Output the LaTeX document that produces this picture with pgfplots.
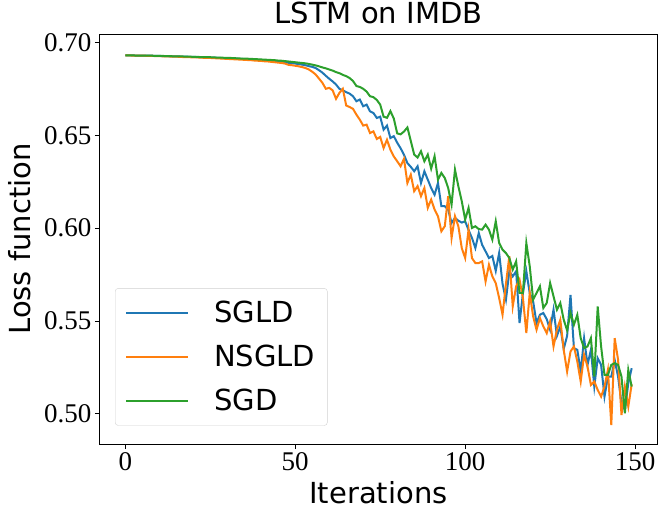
\documentclass[border=0pt]{standalone}
\usepackage{fontspec}
\setmainfont{Liberation Serif}
\newfontfamily\dejavu{DejaVu Sans}
\usepackage{pgfplots}
\usepackage{pgfplotstable}
\pgfplotsset{compat=1.18}
\definecolor{c0}{HTML}{1F77B4}
\definecolor{c1}{HTML}{FF7F0E}
\definecolor{c2}{HTML}{2CA02C}
\pgfplotstableread{
i b o g
0 .6930 .6930 .6930
1 .6930 .6930 .6930
2 .6930 .6929 .6930
3 .6929 .6929 .6929
4 .6929 .6929 .6929
5 .6929 .6928 .6929
6 .6928 .6928 .6928
7 .6928 .6927 .6928
8 .6928 .6927 .6928
9 .6927 .6926 .6927
10 .6927 .6926 .6927
11 .6926 .6925 .6927
12 .6926 .6925 .6926
13 .6925 .6924 .6926
14 .6925 .6923 .6925
15 .6924 .6923 .6925
16 .6924 .6922 .6924
17 .6923 .6921 .6924
18 .6923 .6921 .6923
19 .6922 .6920 .6923
20 .6922 .6919 .6922
21 .6921 .6919 .6922
22 .6920 .6918 .6921
23 .6920 .6917 .6921
24 .6919 .6916 .6920
25 .6918 .6916 .6920
26 .6918 .6915 .6919
27 .6917 .6914 .6918
28 .6916 .6913 .6918
29 .6915 .6912 .6917
30 .6915 .6911 .6916
31 .6914 .6910 .6916
32 .6913 .6909 .6915
33 .6912 .6908 .6914
34 .6911 .6907 .6913
35 .6910 .6906 .6912
36 .6909 .6905 .6912
37 .6908 .6904 .6911
38 .6907 .6902 .6910
39 .6906 .6901 .6909
40 .6905 .6900 .6908
41 .6903 .6898 .6907
42 .6902 .6897 .6906
43 .6900 .6895 .6905
44 .6899 .6893 .6904
45 .6897 .6891 .6902
46 .6895 .6889 .6901
47 .6893 .6886 .6899
48 .6890 .6879 .6897
49 .6888 .6877 .6895
50 .6886 .6874 .6893
51 .6883 .6871 .6891
52 .6880 .6867 .6889
53 .6877 .6862 .6887
54 .6872 .6854 .6884
55 .6868 .6842 .6880
56 .6862 .6827 .6876
57 .6850 .6805 .6871
58 .6837 .6782 .6865
59 .6820 .6750 .6860
60 .6804 .6755 .6854
61 .6790 .6742 .6848
62 .6773 .6696 .6840
63 .6750 .6728 .6834
64 .6742 .6750 .6825
65 .6732 .6660 .6818
66 .6724 .6652 .6808
67 .6710 .6642 .6792
68 .6683 .6611 .6765
69 .6692 .6584 .6760
70 .6656 .6552 .6750
71 .6665 .6557 .6735
72 .6629 .6512 .6710
73 .6620 .6521 .6705
74 .6593 .6480 .6690
75 .6600 .6491 .6665
76 .6530 .6431 .6600
77 .6552 .6476 .6594
78 .6485 .6422 .6630
79 .6495 .6386 .6590
80 .6460 .6360 .6510
81 .6430 .6333 .6505
82 .6395 .6373 .6520
83 .6350 .6243 .6542
84 .6330 .6288 .6470
85 .6306 .6199 .6396
86 .6333 .6226 .6380
87 .6243 .6172 .6414
88 .6306 .6216 .6360
89 .6261 .6109 .6396
90 .6216 .6154 .6320
91 .6180 .6100 .6387
92 .6243 .6064 .6261
93 .6118 .5983 .6297
94 .6118 .6010 .6270
95 .6100 .6172 .6216
96 .6028 .5947 .6127
97 .6055 .6064 .6315
98 .6040 .6010 .6225
99 .6030 .5893 .6145
100 .6037 .5839 .6046
101 .5990 .5992 .6109
102 .5947 .5839 .6001
103 .5893 .5812 .6010
104 .5974 .5812 .5995
105 .5910 .5821 .5992
106 .5875 .5713 .6019
107 .5839 .5803 .5992
108 .5850 .5740 .5938
109 .5770 .5704 .6037
110 .5866 .5624 .5920
111 .5700 .5534 .5884
112 .5615 .5700 .5866
113 .5768 .5849 .5839
114 .5740 .5579 .5777
115 .5768 .5687 .5821
116 .5489 .5723 .5651
117 .5650 .5624 .5651
118 .5768 .5435 .5920
119 .5650 .5651 .5795
120 .5606 .5525 .5615
121 .5489 .5453 .5651
122 .5534 .5516 .5687
123 .5543 .5471 .5570
124 .5510 .5435 .5597
125 .5453 .5498 .5705
126 .5561 .5363 .5633
127 .5420 .5453 .5561
128 .5470 .5507 .5597
129 .5350 .5345 .5507
130 .5420 .5228 .5450
131 .5641 .5336 .5543
132 .5354 .5363 .5480
133 .5345 .5282 .5533
134 .5228 .5174 .5408
135 .5407 .5318 .5354
136 .5264 .5255 .5363
137 .5345 .5156 .5408
138 .5147 .5174 .5201
139 .5300 .5129 .5578
140 .5264 .5093 .5363
141 .5093 .5147 .5210
142 .5201 .5237 .5210
143 .5201 .4940 .5264
144 .5290 .5408 .5273
145 .5200 .5291 .5264
146 .5057 .4994 .5201
147 .5021 .5147 .5003
148 .5165 .5039 .5237
149 .5246 .5160 .5147
}\loss
\begin{document}
\begin{tikzpicture}
\begin{axis}[
  scale only axis,
  width=557pt, height=410pt,
  xmin=-7.45, xmax=156.45,
  ymin=0.4838, ymax=0.7045,
  xtick={0,50,100,150},
  ytick={0.50,0.55,0.60,0.65,0.70},
  yticklabel style={/pgf/number format/.cd,fixed,fixed zerofill,precision=2},
  /pgf/number format/assume math mode=true,
  tick label style={font=\fontsize{27}{27}\selectfont},
  tick align=outside,
  tick pos=left,
  major tick length=5pt,
  tick style={black, line width=1pt},
  axis line style={line width=1pt},
  title={LSTM on IMDB},
  title style={font=\dejavu\fontsize{29}{29}\selectfont, at={(axis description cs:0.5,1.0098)}, anchor=base, inner sep=0pt},
  xlabel={Iterations},
  xlabel style={font=\dejavu\fontsize{29}{29}\selectfont, at={(axis description cs:0.5,-0.1463)}, anchor=base, inner sep=0pt},
  ylabel={Loss function},
  ylabel style={font=\dejavu\fontsize{29}{29}\selectfont, at={(axis description cs:-0.124,0.5)}, anchor=base, inner sep=0pt},
  legend style={at={(axis description cs:0.027,0.38)}, anchor=north west,
    draw=black!18, rounded corners=3pt, fill=white, fill opacity=0.8, text opacity=1,
    font=\dejavu\fontsize{29}{29}\selectfont,
    inner xsep=10pt, inner ysep=11pt, row sep=17pt},
  legend cell align=left,
  legend image code/.code={\draw[#1, line width=2pt] (0pt,0pt) -- (62pt,0pt); \path (85pt,0pt);},
]
\addplot[c0, line width=2pt] table[x=i, y=b] {\loss};
\addlegendentry{SGLD}
\addplot[c1, line width=2pt] table[x=i, y=o] {\loss};
\addlegendentry{NSGLD}
\addplot[c2, line width=2pt] table[x=i, y=g] {\loss};
\addlegendentry{SGD}
\end{axis}
\pgfresetboundingbox
\path (current axis.south west) ++(-100pt,-74pt) coordinate (bl);
\path (current axis.north east) ++(8pt,34pt) coordinate (tr);
\path[use as bounding box] (bl) rectangle (tr);
\end{tikzpicture}
\end{document}
